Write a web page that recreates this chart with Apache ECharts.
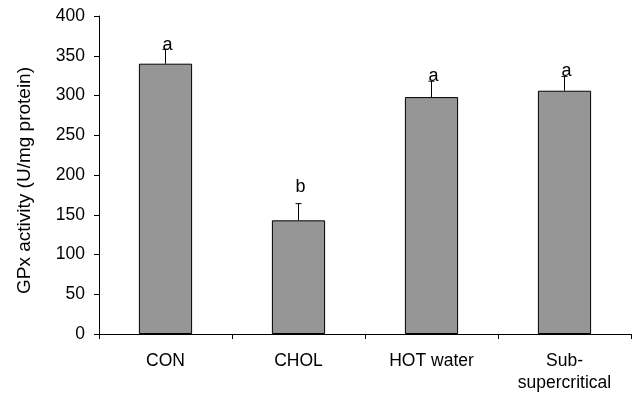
<!DOCTYPE html>
<html>
<head>
<meta charset="utf-8">
<script src="https://cdn.jsdelivr.net/npm/echarts@6/dist/echarts.min.js"></script>
<style>
  html, body { margin: 0; padding: 0; background: #fff; }
  #chart { width: 636px; height: 394px; }
</style>
</head>
<body>
<div id="chart"></div>
<script>
// data
const categories = ['CON', 'CHOL', 'HOT water', 'Sub-\nsupercritical']
const gpxValues = [340, 143, 298, 306]
const gpxErrors = [18, 21, 20, 18]
const letters = ['a', 'b', 'a', 'a']
const letterY = [357, 178, 318, 324] // baseline of each letter, in axis units
const yTicks = { min: 0, max: 400, interval: 50 }

const font = 'Liberation Sans, Arial, sans-serif'
var myChart = echarts.init(document.getElementById('chart'))

// 误差线 + 显著性字母
const errData = gpxValues.map((v, i) => [i, v, v + gpxErrors[i], letterY[i], letters[i]])

let option = {
  animation: false,
  grid: { left: 99, right: 5, top: 16, bottom: 59, containLabel: false },
  xAxis: {
    type: 'category',
    data: categories,
    axisLine: { lineStyle: { color: '#000', width: 1 } },
    axisTick: { show: true, length: 5, alignWithLabel: false, lineStyle: { color: '#000' } },
    axisLabel: {
      color: '#000',
      fontFamily: font,
      fontSize: 17.5,
      margin: 16,
      lineHeight: 22,
      interval: 0
    }
  },
  yAxis: {
    type: 'value',
    min: yTicks.min,
    max: yTicks.max,
    interval: yTicks.interval,
    name: 'GPx activity (U/mg protein)',
    nameLocation: 'middle',
    nameGap: 65,
    nameTextStyle: { color: '#000', fontFamily: font, fontSize: 19, padding: [0, 11, 0, 0] },
    axisLine: { show: true, lineStyle: { color: '#000', width: 1 } },
    axisTick: { show: true, length: 5, lineStyle: { color: '#000' } },
    axisLabel: { color: '#000', fontFamily: font, fontSize: 17.5, margin: 14 },
    splitLine: { show: false }
  },
  series: [
    {
      type: 'bar',
      data: gpxValues,
      barWidth: '40%',
      itemStyle: { color: '#969696', borderColor: '#000', borderWidth: 1 },
      z: 2
    },
    {
      type: 'custom',
      data: errData,
      z: 3,
      renderItem: function (params, api) {
        const x = api.value(0)
        const base = api.coord([x, api.value(1)])
        const top = api.coord([x, api.value(2)])
        const lab = api.coord([x, api.value(3)])
        const cap = 3
        return {
          type: 'group',
          children: [
            {
              type: 'line',
              shape: { x1: base[0], y1: base[1], x2: top[0], y2: top[1] },
              style: { stroke: '#000', lineWidth: 1 }
            },
            {
              type: 'line',
              shape: { x1: top[0] - cap, y1: top[1], x2: top[0] + cap, y2: top[1] },
              style: { stroke: '#000', lineWidth: 1 }
            },
            {
              type: 'text',
              x: lab[0] + 2,
              y: lab[1] + 4,
              style: {
                text: api.value(4),
                fill: '#000',
                font: '18px ' + font,
                align: 'center',
                verticalAlign: 'bottom'
              }
            }
          ]
        }
      }
    }
  ]
}

myChart.setOption(option)
</script>
</body>
</html>
